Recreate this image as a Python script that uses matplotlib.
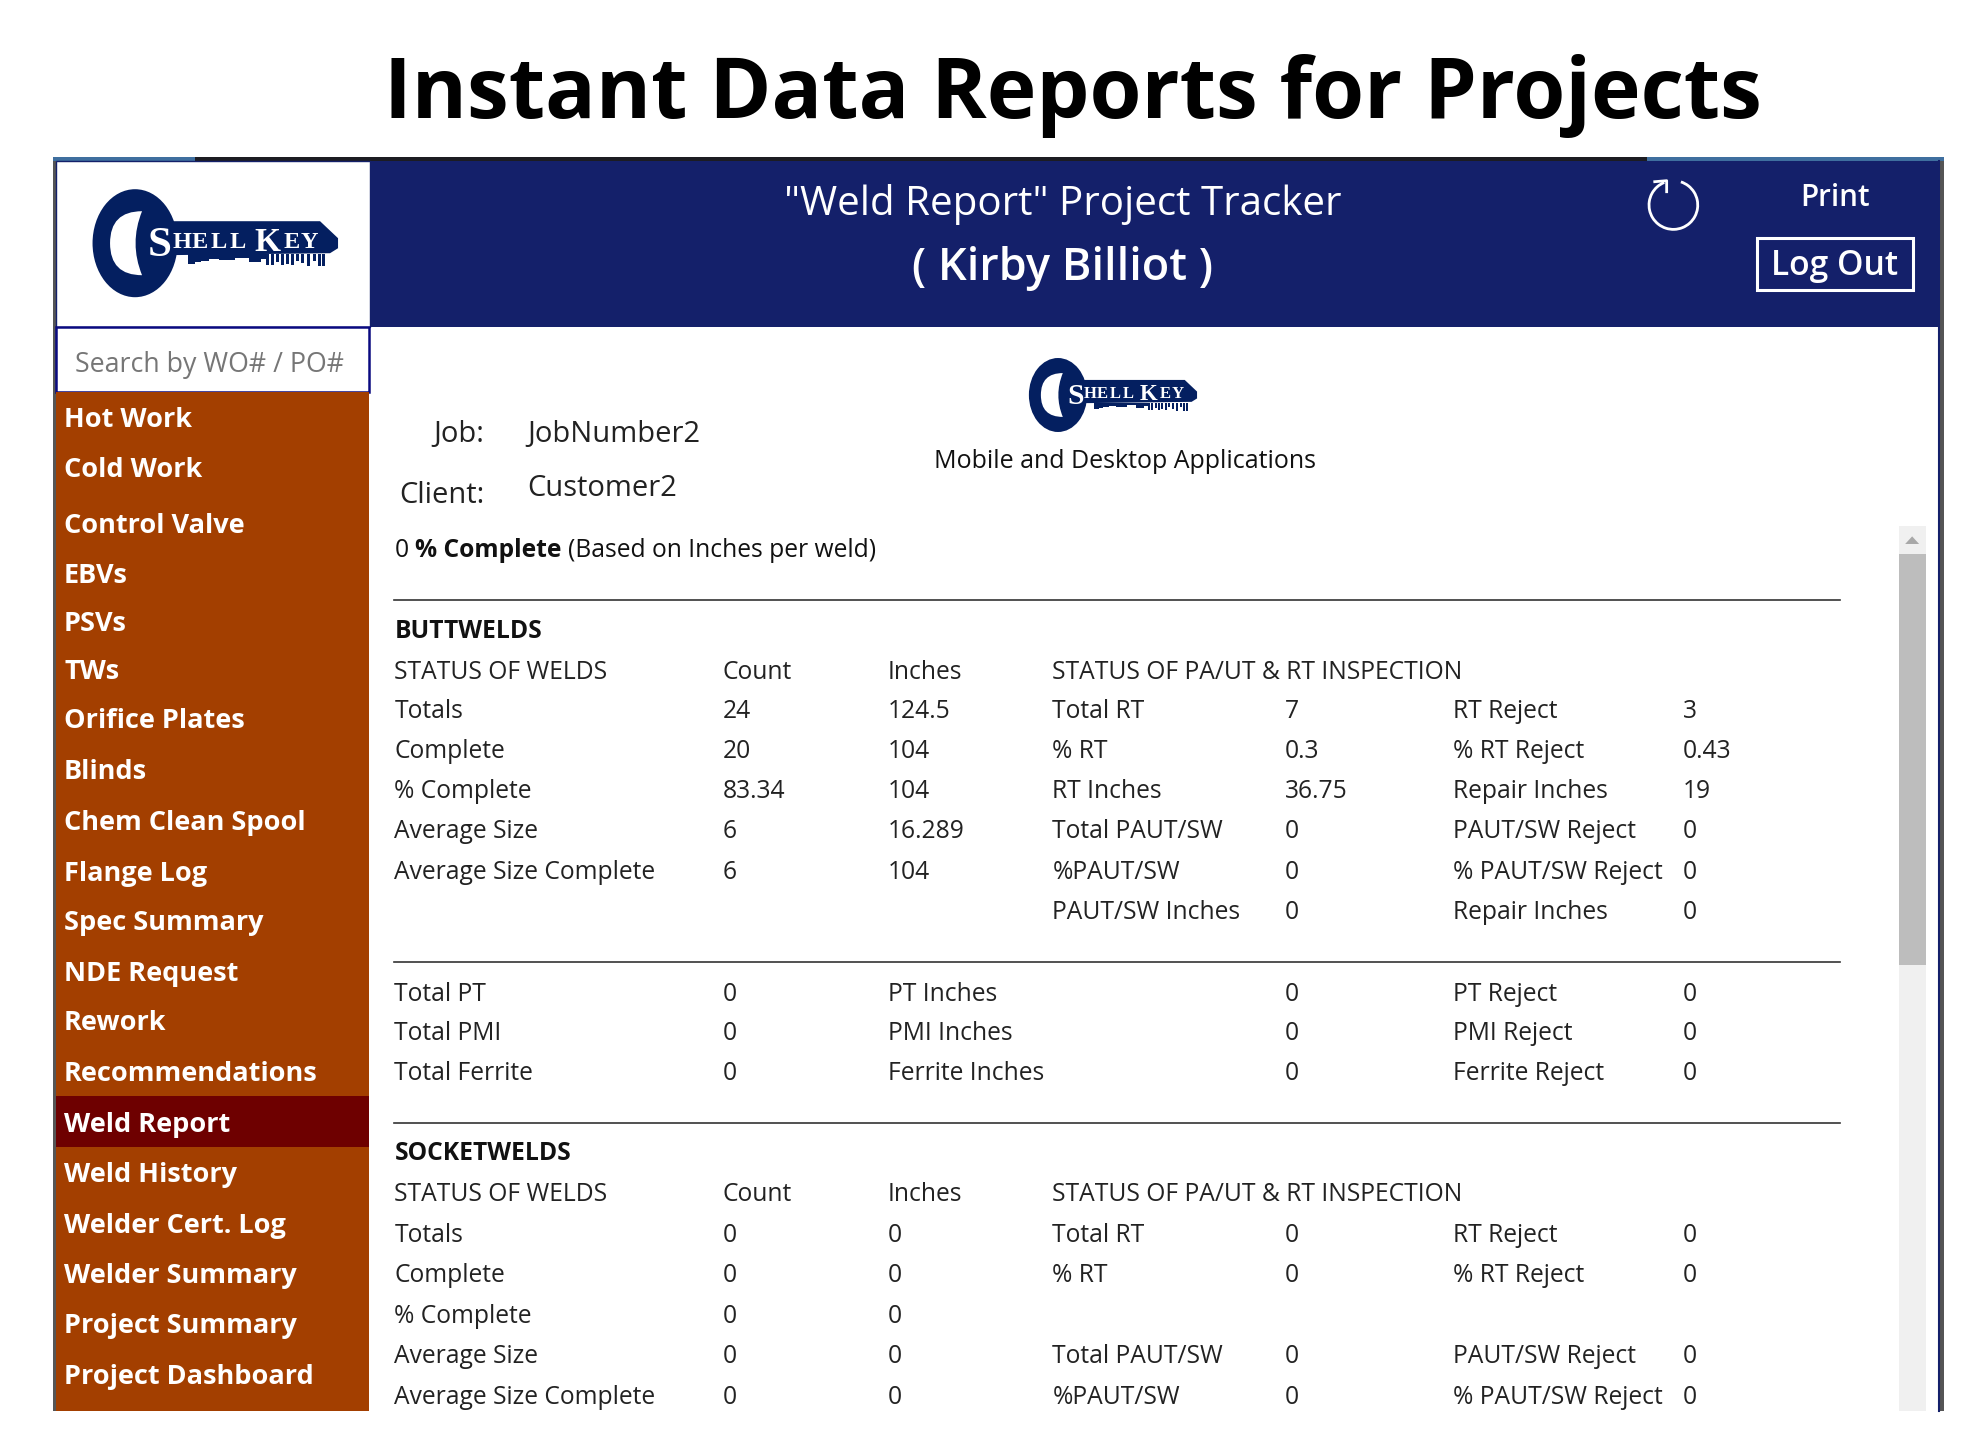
import matplotlib
matplotlib.use("Agg")
import matplotlib.pyplot as plt
from matplotlib.patches import Rectangle, Ellipse, PathPatch, Arc, Polygon
from matplotlib.path import Path

NAVY = "#14206a"
ORANGE = "#a33f00"
SELECTED = "#6e0000"
KEY = "#041f60"
TEXT = "#222222"
S = 1.268   # the axes run in these units, 1988 px / 1.268

plt.rcParams["font.family"] = ["Open Sans", "DejaVu Sans"]

menu_items = ["Hot Work", "Cold Work", "Control Valve", "EBVs", "PSVs", "TWs", "Orifice Plates",
              "Blinds", "Chem Clean Spool", "Flange Log", "Spec Summary", "NDE Request", "Rework",
              "Recommendations", "Weld Report", "Weld History", "Welder Cert. Log", "Welder Summary",
              "Project Summary", "Project Dashboard"]
menu_y = [329, 369, 413, 452, 490, 528, 567, 607, 647, 687, 726, 766, 805, 845, 885, 925, 965, 1004, 1044, 1084]

col_a = [(528, "STATUS OF WELDS"), (559, "Totals"), (591, "Complete"), (622, "% Complete"),
         (654, "Average Size"), (686, "Average Size Complete"),
         (782, "Total PT"), (813, "Total PMI"), (845, "Total Ferrite"),
         (940, "STATUS OF WELDS"), (972, "Totals"), (1004, "Complete"), (1036, "% Complete"),
         (1068, "Average Size"), (1100, "Average Size Complete")]
col_b = [(528, "Count"), (559, "24"), (591, "20"), (622, "83.34"), (654, "6"), (686, "6"),
         (782, "0"), (813, "0"), (845, "0"),
         (940, "Count"), (972, "0"), (1004, "0"), (1036, "0"), (1068, "0"), (1100, "0")]
col_c = [(528, "Inches"), (559, "124.5"), (591, "104"), (622, "104"), (654, "16.289"), (686, "104"),
         (782, "PT Inches"), (813, "PMI Inches"), (845, "Ferrite Inches"),
         (940, "Inches"), (972, "0"), (1004, "0"), (1036, "0"), (1068, "0"), (1100, "0")]
col_d = [(528, "STATUS OF PA/UT & RT INSPECTION"), (559, "Total RT"), (591, "% RT"), (622, "RT Inches"),
         (654, "Total PAUT/SW"), (686, "%PAUT/SW"), (718, "PAUT/SW Inches"),
         (940, "STATUS OF PA/UT & RT INSPECTION"), (972, "Total RT"), (1004, "% RT"),
         (1068, "Total PAUT/SW"), (1100, "%PAUT/SW")]
col_e = [(559, "7"), (591, "0.3"), (622, "36.75"), (654, "0"), (686, "0"), (718, "0"),
         (782, "0"), (813, "0"), (845, "0"),
         (972, "0"), (1004, "0"), (1068, "0"), (1100, "0")]
col_f = [(559, "RT Reject"), (591, "% RT Reject"), (622, "Repair Inches"), (654, "PAUT/SW Reject"),
         (686, "% PAUT/SW Reject"), (718, "Repair Inches"),
         (782, "PT Reject"), (813, "PMI Reject"), (845, "Ferrite Reject"),
         (972, "RT Reject"), (1004, "% RT Reject"), (1068, "PAUT/SW Reject"), (1100, "% PAUT/SW Reject")]
col_g = [(559, "3"), (591, "0.43"), (622, "19"), (654, "0"), (686, "0"), (718, "0"),
         (782, "0"), (813, "0"), (845, "0"),
         (972, "0"), (1004, "0"), (1068, "0"), (1100, "0")]
columns = [(311, col_a), (570, col_b), (700, col_c), (830, col_d), (1013, col_e), (1146, col_f), (1327, col_g)]

# skyline on the key: x offset, width, height
sky_x = [53, 60, 66, 74, 84, 100, 114, 126, 131, 136, 141, 146, 151, 156, 161, 166, 172, 178, 183, 187]
sky_w = [7, 6, 8, 10, 16, 14, 12, 5, 3, 3, 3, 3, 3, 3, 3, 3, 3, 3, 3, 3]
sky_h = [9, 7, 6, 4, 5, 3, 7, 4, 10, 10, 7, 10, 9, 10, 6, 8, 11, 6, 11, 11]


def draw_logo(ax, cx, cy, k):
    # cx, cy, k: key centre and scale, offsets below are in image pixels
    u = k / S
    ax.add_patch(Ellipse((cx, cy), 85 * u, 108 * u, color=KEY, lw=0))
    ax.add_patch(Polygon([(cx + 30 * u, cy - 22 * u), (cx + 185 * u, cy - 22 * u), (cx + 203 * u, cy - 5 * u),
                          (cx + 203 * u, cy + 5 * u), (cx + 195 * u, cy + 10 * u), (cx + 30 * u, cy + 12 * u)],
                         closed=True, color=KEY, lw=0))
    for x, w, h in zip(sky_x, sky_w, sky_h):
        ax.add_patch(Rectangle((cx + x * u, cy + 11 * u), w * u, (h + 1) * u, color=KEY, lw=0))
    verts = [(7, -32), (-25, -32), (-25, 0), (-25, 32), (7, 32), (-6, 0), (7, -32)]
    codes = [Path.MOVETO, Path.CURVE3, Path.CURVE3, Path.CURVE3, Path.CURVE3, Path.CURVE3, Path.CURVE3]
    ax.add_patch(PathPatch(Path([(cx + a * u, cy + b * u) for a, b in verts], codes), fc="white", lw=0))
    base = cy + 12.5 * u
    ax.text(cx + 13 * u, base, "S", color="white", family="Liberation Serif", weight="bold",
            fontsize=31 * k, va="baseline")
    for x, c in zip([37, 56.5, 75, 94], "HELL"):
        ax.text(cx + x * u, base - 8 * u, c, color="white", family="Liberation Serif", weight="bold",
                fontsize=17.5 * k, va="baseline")
    ax.text(cx + 119 * u, base - 5 * u, "K", color="white", family="Liberation Serif", weight="bold",
            fontsize=24 * k, va="baseline")
    for x, c in zip([148, 166], "EY"):
        ax.text(cx + x * u, base - 8 * u, c, color="white", family="Liberation Serif", weight="bold",
                fontsize=17.5 * k, va="baseline")


fig = plt.figure(figsize=(19.88, 14.52), dpi=100)
ax = fig.add_axes([0, 0, 1, 1])
ax.set_xlim(0, 1988 / S)
ax.set_ylim(1452 / S, 0)
ax.axis("off")

ax.text(846, 76, "Instant Data Reports for Projects", fontsize=60.5, weight="bold", color="black",
        ha="center", va="center")

# app frame
ax.add_patch(Rectangle((42, 124), 1491, 989, color="#555555", lw=0))
ax.add_patch(Rectangle((42, 124), 112, 3, color="#3f6f9f", lw=0))
ax.add_patch(Rectangle((154, 124), 1145, 3, color="#1c1c22", lw=0))
ax.add_patch(Rectangle((1299, 124), 234, 3, color="#3f6f9f", lw=0))
ax.add_patch(Rectangle((44, 127), 1485, 986, color="white", lw=0))
ax.plot([1529.5, 1529.5], [127, 1113], color=NAVY, lw=1.5)

# header
ax.add_patch(Rectangle((292, 127), 1238, 131, color=NAVY, lw=0))
ax.add_patch(Rectangle((44, 127), 248, 131, fc="white", ec=NAVY, lw=1))
draw_logo(ax, 106.5, 191.8, 1.0)
ax.text(838, 161, "\"Weld Report\" Project Tracker", color="white", fontsize=29, ha="center", va="center")
ax.text(838, 212, "( Kirby Billiot )", color="white", fontsize=32.4, weight="semibold", ha="center", va="center")
ax.text(1447, 156, "Print", color="white", fontsize=21.3, weight="semibold", ha="center", va="center")
ax.add_patch(Rectangle((1385.5, 188), 123.5, 40.5, fc="none", ec="white", lw=2.2))
ax.text(1447, 210, "Log Out", color="white", fontsize=24.2, weight="semibold", ha="center", va="center")
ax.add_patch(Arc((1319.7, 161.7), 38.4, 38.4, theta1=-72, theta2=248, color="white", lw=2))
ax.plot([1305, 1314.4, 1314.4], [143.3, 142.5, 151.2], color="white", lw=2)

# search box and menu
ax.add_patch(Rectangle((44.5, 258), 246.5, 51, fc="white", ec="#0a0a80", lw=1.8))
ax.text(59, 287.5, "Search by WO# / PO#", color="#767676", fontsize=19.3, va="center")
ax.add_patch(Rectangle((44, 309), 247, 804, color=ORANGE, lw=0))
ax.add_patch(Rectangle((44, 864.5), 247, 40, color=SELECTED, lw=0))
for y, item in zip(menu_y, menu_items):
    ax.text(50.5, y + 2, item, color="white", fontsize=19.5, weight="bold", va="center")

# report head
draw_logo(ax, 1058 / S, 395 / S, 0.685)
ax.text(887, 364, "Mobile and Desktop Applications", color="#111111", fontsize=18, ha="center", va="center")
ax.text(382, 343, "Job:", color=TEXT, fontsize=21, ha="right", va="center")
ax.text(382, 391, "Client:", color=TEXT, fontsize=21, ha="right", va="center")
ax.text(416, 343, "JobNumber2", color=TEXT, fontsize=21, va="center")
ax.text(416, 385, "Customer2", color=TEXT, fontsize=21, va="center")
ax.text(311, 434, "0", color="#111111", fontsize=17.7, va="center")
ax.text(327, 434, "% Complete", color="#111111", fontsize=17.7, weight="bold", va="center")
ax.text(448, 434, "(Based on Inches per weld)", color="#111111", fontsize=17.7, va="center")

for y in [473, 759, 886]:
    ax.plot([311, 1451], [y, y], color="#333333", lw=1.2)
ax.text(311, 498, "BUTTWELDS", color="#111111", fontsize=17.7, weight="bold", va="center")
ax.text(311, 910, "SOCKETWELDS", color="#111111", fontsize=17.7, weight="bold", va="center")

for x, col in columns:
    for y, label in col:
        ax.text(x, y + 2, label, color=TEXT, fontsize=17.7, va="center")

# scrollbar
ax.add_patch(Rectangle((1498, 415), 21, 698, color="#f0f0f0", lw=0))
ax.add_patch(Rectangle((1498, 437), 21, 324, color="#bdbdbd", lw=0))
ax.add_patch(Polygon([(1502.5, 429), (1513.5, 429), (1508, 423)], closed=True, color="#a8a8a8", lw=0))

fig.savefig("out.png", dpi=100)
plt.close()
